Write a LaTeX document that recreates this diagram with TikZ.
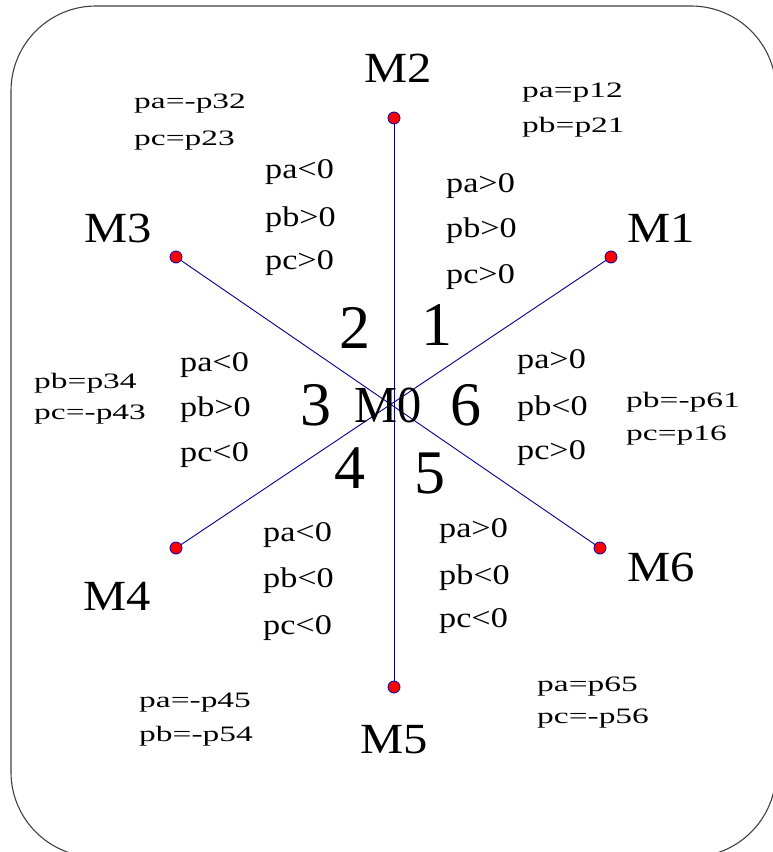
\documentclass[tikz,border=0pt]{standalone}
\usepackage{fontspec}
\setmainfont{Liberation Serif}
\begin{document}
\begin{tikzpicture}[x=1pt,y=-1pt,
  dot/.style={circle,fill=red,draw=blue!70!black,line width=0.8pt,minimum size=12pt,inner sep=0pt},
  spoke/.style={draw=blue!55!black,line width=0.9pt},
  mlab/.style={inner sep=0pt,font=\fontsize{43}{43}\selectfont},
  biglab/.style={inner sep=0pt,font=\fontsize{62}{62}\selectfont},
  ineq/.style={inner sep=0pt,anchor=west,font=\fontsize{28.5}{28.5}\selectfont},
  eqlab/.style={inner sep=0pt,anchor=west,font=\fontsize{22}{22}\selectfont}]
\newcommand{\wideA}[1]{\scalebox{1.13}[1]{#1}}
\newcommand{\wideB}[1]{\scalebox{1.2}[1]{#1}}
\newcommand{\wideC}[1]{\scalebox{1.52}[1]{#1}}
\useasboundingbox (0,0) rectangle (773,852);
\draw[black!75,line width=1.1pt,rounded corners=85pt] (11,6) rectangle (776,857);
% dot positions
\coordinate (p1) at (611,257);
\coordinate (p2) at (394,118);
\coordinate (p3) at (176,257);
\coordinate (p4) at (176,548);
\coordinate (p5) at (394,687);
\coordinate (p6) at (600,548);
\draw[spoke] (p2) -- (p5);
\draw[spoke] (p3) -- (p6);
\draw[spoke] (p1) -- (p4);
\node[dot] (d1) at (p1) {};
\node[dot] (d2) at (p2) {};
\node[dot] (d3) at (p3) {};
\node[dot] (d4) at (p4) {};
\node[dot] (d5) at (p5) {};
\node[dot] (d6) at (p6) {};
% M labels
\node[mlab] (M1) at (661,228) {\wideA{M1}};
\node[mlab] (M2) at (398,68) {\wideA{M2}};
\node[mlab] (M3) at (118,228) {\wideA{M3}};
\node[mlab] (M4) at (117,596) {\wideA{M4}};
\node[mlab] (M5) at (394,740) {\wideA{M5}};
\node[mlab] (M6) at (661,567) {\wideA{M6}};
\node[inner sep=0pt,font=\fontsize{52}{52}\selectfont] (M0) at (388,405) {\scalebox{0.93}[1]{M0}};
% region numbers
\node[biglab] (r1) at (437,325) {1};
\node[biglab] (r2) at (355,328) {2};
\node[biglab] (r3) at (316,405) {3};
\node[biglab] (r6) at (466,405) {6};
\node[biglab] (r4) at (350,468) {4};
\node[biglab] (r5) at (430,473) {5};
% inequalities
\node[ineq] (a1) at (446,186) {\wideB{pa>0}};
\node[ineq] (b1) at (446,231) {\wideB{pb>0}};
\node[ineq] (c1) at (446,277) {\wideB{pc>0}};
\node[ineq] (a2) at (265,172) {\wideB{pa<0}};
\node[ineq] (b2) at (265,220) {\wideB{pb>0}};
\node[ineq] (c2) at (265,263) {\wideB{pc>0}};
\node[ineq] (a3) at (180,365) {\wideB{pa<0}};
\node[ineq] (b3) at (180,410) {\wideB{pb>0}};
\node[ineq] (c3) at (180,455) {\wideB{pc<0}};
\node[ineq] (a6) at (517,362) {\wideB{pa>0}};
\node[ineq] (b6) at (517,409) {\wideB{pb<0}};
\node[ineq] (c6) at (517,453) {\wideB{pc>0}};
\node[ineq] (a4) at (263,535) {\wideB{pa<0}};
\node[ineq] (b4) at (263,581) {\wideB{pb<0}};
\node[ineq] (c4) at (263,628) {\wideB{pc<0}};
\node[ineq] (a5) at (439,531) {\wideB{pa>0}};
\node[ineq] (b5) at (439,578) {\wideB{pb<0}};
\node[ineq] (c5) at (439,621) {\wideB{pc<0}};
% equalities
\node[eqlab] (e23a) at (134,104) {\wideC{pa=-p32}};
\node[eqlab] (e23b) at (134,141) {\wideC{pc=p23}};
\node[eqlab] (e12a) at (522,93) {\wideC{pa=p12}};
\node[eqlab] (e12b) at (522,127) {\wideC{pb=p21}};
\node[eqlab] (e34a) at (34,383) {\wideC{pb=p34}};
\node[eqlab] (e34b) at (34,415) {\wideC{pc=-p43}};
\node[eqlab] (e16a) at (626,402) {\wideC{pb=-p61}};
\node[eqlab] (e16b) at (626,436) {\wideC{pc=p16}};
\node[eqlab] (e45a) at (139,703) {\wideC{pa=-p45}};
\node[eqlab] (e45b) at (139,736) {\wideC{pb=-p54}};
\node[eqlab] (e56a) at (537,687) {\wideC{pa=p65}};
\node[eqlab] (e56b) at (537,719) {\wideC{pc=-p56}};
\end{tikzpicture}
\end{document}
